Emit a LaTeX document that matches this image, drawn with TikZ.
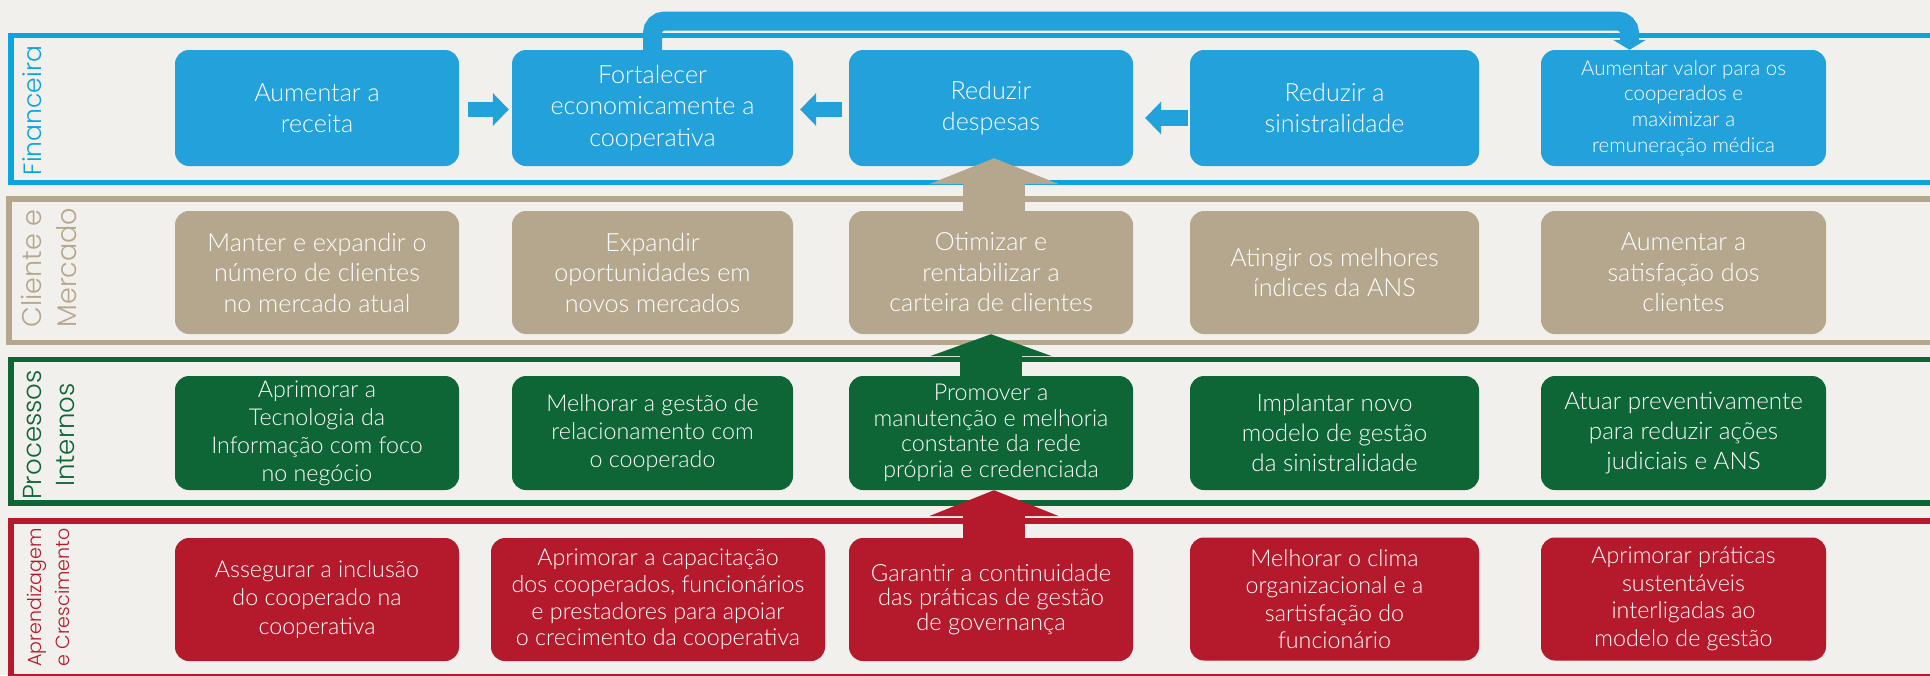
\documentclass[tikz,border=0pt]{standalone}
\usepackage{fontspec}
\IfFontExistsTF{Lato Light}{\setmainfont{Lato Light}[Scale=0.93]}{\setmainfont{Carlito}}
\IfFontExistsTF{Poppins Light}{\newfontfamily\labelfont{Poppins Light}}{\newfontfamily\labelfont{Poppins}}
\usetikzlibrary{arrows.meta}

\definecolor{finblue}{HTML}{22A1DA}
\definecolor{finline}{HTML}{0BA3E0}
\definecolor{clitan}{HTML}{B5A78E}
\definecolor{progreen}{HTML}{0E6536}
\definecolor{aprred}{HTML}{B41A2C}
\definecolor{paper}{HTML}{F2F0EC}

\tikzset{
  goal/.style={rectangle, rounded corners=14pt, inner sep=0pt, minimum width=284pt,
    text=white, align=center, font=\fontsize{26}{30}\selectfont},
  finbox/.style={goal, fill=finblue, minimum height=116pt, font=\fontsize{27}{31.5}\selectfont},
  clibox/.style={goal, fill=clitan, minimum height=123pt, font=\fontsize{27}{30.5}\selectfont},
  probox/.style={goal, fill=progreen, minimum height=114pt, font=\fontsize{25}{28}\selectfont},
  aprbox/.style={goal, fill=aprred, minimum height=123pt, font=\fontsize{25}{27.5}\selectfont},
  band/.style={line width=5.5pt},
  persp/.style={rotate=90, align=center, inner sep=0pt, font=\labelfont\fontsize{26}{33}\selectfont},
  flatarrow/.style={finblue, line width=15.6pt, -{Triangle[width=33pt,length=16pt,line width=0pt]}},
  uparrow/.style={line width=62pt, -{Triangle[width=130pt,length=26pt,line width=0pt]}}
}

\begin{document}
\begin{tikzpicture}[x=1pt,y=-1pt]
  \useasboundingbox (0,0) rectangle (1930,675);
  \fill[paper] (0,0) rectangle (1930,675);
  \clip (0,0) rectangle (1930,675);

  \draw[band,finline] (1945,35.5) -| (11,182.5) -- (1945,182.5);
  \draw[band,clitan] (1945,199) -| (9,342.5) -- (1945,342.5);
  \draw[band,progreen] (1945,359.5) -| (11,503) -- (1945,503);
  \draw[band,aprred] (1945,521) -| (11,677) -- (1945,677);

  \node[persp, finline, font=\labelfont\fontsize{25}{30}\selectfont] (lfin) at (32,110.5) {Financeira};
  \node[persp, clitan, align=left, font=\labelfont\fontsize{27}{35}\selectfont] (lcli) at (49,267.5) {Cliente e\\Mercado};
  \node[persp, progreen] (lpro) at (49,435) {Processos\\Internos};
  \node[persp, aprred, font=\labelfont\fontsize{19}{28}\selectfont] (lapr) at (48,597.5) {Aprendizagem\\e Crescimento};

  \node[finbox] (fin1) at (317,108) {Aumentar a\\receita};
  \node[finbox, minimum width=281pt] (fin2) at (652.5,108) {Fortalecer\\economicamente a\\cooperativa};
  \node[finbox] (fin3) at (991,108) {Reduzir\\despesas};
  \node[finbox, minimum width=289pt] (fin4) at (1334.5,108) {Reduzir a\\sinistralidade};
  \node[finbox, minimum width=285pt, font=\fontsize{22}{25.7}\selectfont] (fin5) at (1683.5,108)
    {Aumentar valor para os\\cooperados e\\maximizar a\\remuneração médica};

  \node[clibox] (cli1) at (317,272.5) {Manter e expandir o\\número de clientes\\no mercado atual};
  \node[clibox, minimum width=281pt] (cli2) at (652.5,272.5) {Expandir\\oportunidades em\\novos mercados};
  \node[clibox] (cli3) at (991,272.5) {Otimizar e\\rentabilizar a\\carteira de clientes};
  \node[clibox, minimum width=289pt] (cli4) at (1334.5,272.5) {Atingir os melhores\\índices da ANS};
  \node[clibox, minimum width=285pt] (cli5) at (1683.5,272.5) {Aumentar a\\satisfação dos\\clientes};

  \node[probox] (pro1) at (317,433) {Aprimorar a\\Tecnologia da\\Informação com foco\\no negócio};
  \node[probox, minimum width=281pt] (pro2) at (652.5,433) {Melhorar a gestão de\\relacionamento com\\o cooperado};
  \node[probox, font=\fontsize{25}{25.5}\selectfont] (pro3) at (991,433)
    {Promover a\\manutenção e melhoria\\constante da rede\\própria e credenciada};
  \node[probox, minimum width=289pt, font=\fontsize{26}{30}\selectfont] (pro4) at (1334.5,433)
    {Implantar novo\\modelo de gestão\\da sinistralidade};
  \node[probox, minimum width=285pt, font=\fontsize{26}{30}\selectfont] (pro5) at (1683.5,433)
    {Atuar preventivamente\\para reduzir ações\\judiciais e ANS};

  \node[aprbox, font=\fontsize{25}{28.3}\selectfont] (apr1) at (317,599.5) {Assegurar a inclusão\\do cooperado na\\cooperativa};
  \node[aprbox, minimum width=334pt, font=\fontsize{25}{26.7}\selectfont] (apr2) at (658,599.5)
    {Aprimorar a capacitação\\dos cooperados, funcionários\\e prestadores para apoiar\\o crecimento da cooperativa};
  \node[aprbox, font=\fontsize{25.5}{24.5}\selectfont] (apr3) at (991,599.5)
    {Garantir a continuidade\\das práticas de gestão\\de governança};
  \node[aprbox, minimum width=289pt] (apr4) at (1334.5,599) {Melhorar o clima\\organizacional e a\\sartisfação do\\funcionário};
  \node[aprbox, minimum width=285pt] (apr5) at (1683.5,599) {Aprimorar práticas\\sustentáveis\\interligadas ao\\modelo de gestão};

  \draw[flatarrow, shorten <=9pt, shorten >=3pt] ([yshift=-1.5pt]fin1.east) -- ([yshift=-1.5pt]fin2.west);
  \draw[flatarrow, shorten <=7pt, shorten >=7pt] ([yshift=-1.5pt]fin3.west) -- ([yshift=-1.5pt]fin2.east);
  \draw[flatarrow, shorten <=2pt, shorten >=12pt] ([yshift=-10pt]fin4.west) -- ([yshift=-10pt]fin3.east);

  \coordinate (looptop) at (0,21);
  \coordinate (in5) at ([xshift=-54pt]fin5.north);
  \draw[finblue, line width=19pt, rounded corners=12pt, -{Triangle[width=33pt,length=10pt,line width=0pt]}]
    (fin2.north) |- (in5 |- looptop) -- (in5);

  \draw[uparrow, clitan, shorten >=-8pt] ([xshift=3pt]cli3.north) -- ([xshift=3pt]fin3.south);
  \draw[uparrow, progreen, -{Triangle[width=122pt,length=22pt,line width=0pt]}] (pro3.north) -- (cli3.south);
  \draw[uparrow, aprred] ([xshift=3pt]apr3.north) -- ([xshift=3pt]pro3.south);
\end{tikzpicture}
\end{document}
